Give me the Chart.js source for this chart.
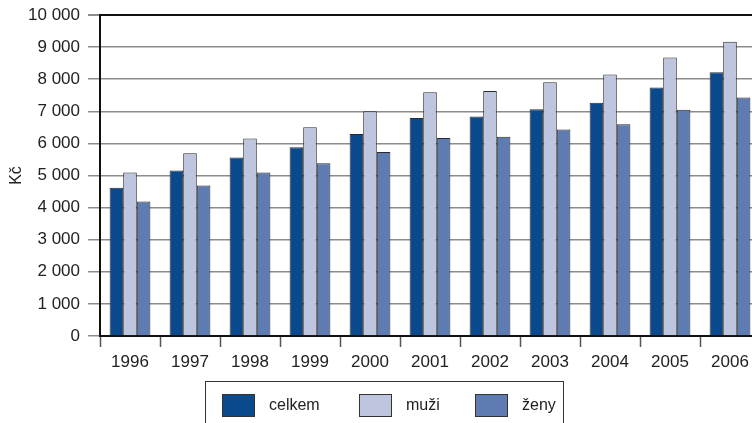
<!DOCTYPE html>
<html>
<head>
<meta charset="utf-8">
<script src="https://cdn.jsdelivr.net/npm/chart.js@4/dist/chart.umd.min.js"></script>
<style>
  html, body { margin: 0; padding: 0; background: #fff; overflow: hidden; width: 752px; height: 423px; }
  #wrap { position: relative; width: 770px; height: 423px; }
  #legend {
    position: absolute; left: 205px; top: 381px; width: 359px; height: 60px;
    border: 1.5px solid #333; box-sizing: border-box;
    font-family: "Liberation Sans", Arial, sans-serif; font-size: 16px; color: #222;
  }
  .item { position: absolute; top: 12px; height: 23px; }
  .sw { position: absolute; left: 0; top: 0; width: 33px; height: 23px; box-sizing: border-box; border: 1px solid #333; }
  .lbl { position: absolute; left: 47px; top: 2px; white-space: nowrap; }
</style>
</head>
<body>
<div id="wrap">
  <canvas id="c" width="770" height="423"></canvas>
  <div id="legend"></div>
</div>
<script>
// data
const years = ['1996', '1997', '1998', '1999', '2000', '2001', '2002', '2003', '2004', '2005', '2006'];
const celkem = [4620, 5155, 5560, 5880, 6295, 6795, 6835, 7065, 7265, 7745, 8215];
const muzi = [5095, 5695, 6150, 6505, 7000, 7595, 7635, 7905, 8145, 8675, 9170];
const zeny = [4190, 4690, 5095, 5385, 5735, 6170, 6205, 6430, 6595, 7045, 7430];
const seriesNames = ['celkem', 'muži', 'ženy'];
const seriesColors = ['#0a4a8c', '#bec5df', '#5e7bb2'];
const yTicks = [0, 1000, 2000, 3000, 4000, 5000, 6000, 7000, 8000, 9000, 10000];

const FONT = '"Liberation Sans", Arial, sans-serif';

function fmt(v) {
    return String(v).replace(/\B(?=(\d{3})+(?!\d))/g, ' ');
}

const ctx = document.getElementById('c');
new Chart(ctx, {
    type: 'bar',
    data: {
        labels: years,
        datasets: [celkem, muzi, zeny].map((d, i) => ({
            label: seriesNames[i],
            data: d,
            backgroundColor: seriesColors[i],
            borderColor: '#2b2b2b',
            borderWidth: 1,
            categoryPercentage: 0.68,
            barPercentage: 1.0
        }))
    },
    options: {
        responsive: false,
        animation: false,
        layout: { padding: { top: 15, right: 10, left: 0, bottom: 0 } },
        plugins: {
            legend: { display: false },
            tooltip: { enabled: false }
        },
        scales: {
            x: {
                offset: true,
                grid: {
                    offset: true,
                    drawOnChartArea: false,
                    drawTicks: true,
                    tickLength: 11,
                    tickColor: '#555',
                    tickWidth: 1.5
                },
                border: { color: '#111', width: 2 },
                ticks: {
                    color: '#222',
                    font: { family: FONT, size: 17 },
                    padding: 5,
                    maxRotation: 0
                },
                afterFit: s => { s.height = 87; }
            },
            y: {
                min: 0,
                max: 10000,
                afterBuildTicks: s => { s.ticks = yTicks.map(v => ({ value: v })); },
                grid: {
                    color: c => (c.tick && c.tick.value === 10000) ? '#111' : '#8c8c8c',
                    lineWidth: c => (c.tick && c.tick.value === 10000) ? 2 : 1.5,
                    tickColor: '#8c8c8c',
                    tickLength: 12
                },
                border: { color: '#111', width: 2 },
                ticks: {
                    color: '#222',
                    font: { family: FONT, size: 17 },
                    padding: 8,
                    callback: v => fmt(v)
                },
                title: {
                    display: true,
                    text: 'Kč',
                    color: '#222',
                    font: { family: FONT, size: 16 },
                    padding: { top: 7, bottom: 0 }
                },
                afterFit: s => { s.width = 100; s.paddingTop = 0; }
            }
        }
    }
});

// legend box
const legend = document.getElementById('legend');
const itemLeft = [16, 153, 269];
seriesNames.forEach((name, i) => {
    const it = document.createElement('div');
    it.className = 'item';
    it.style.left = itemLeft[i] + 'px';
    it.innerHTML = '<div class="sw" style="background:' + seriesColors[i] + '"></div><span class="lbl">' + name + '</span>';
    legend.appendChild(it);
});
</script>
</body>
</html>
